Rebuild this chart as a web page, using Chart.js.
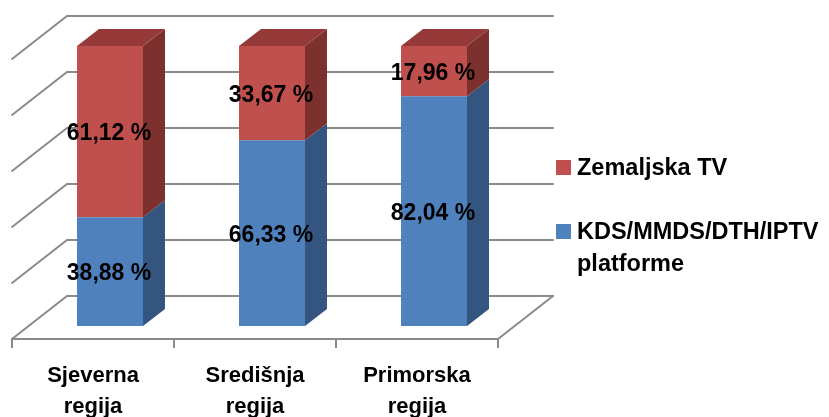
<!DOCTYPE html>
<html>
<head>
<meta charset="utf-8">
<script src="https://cdn.jsdelivr.net/npm/chart.js@4.4.0/dist/chart.umd.min.js"></script>
<style>
    html, body { margin: 0; padding: 0; background: #fff; }
    #wrap { width: 829px; height: 417px; }
</style>
</head>
<body>
<div id="wrap"><canvas id="regijeChart" width="829" height="417"></canvas></div>
<script>
// Udio platformi po regijama (%)
var regije = [["Sjeverna", "regija"], ["Središnja", "regija"], ["Primorska", "regija"]];
var kdsPlatforme = [38.88, 66.33, 82.04];
var zemaljskaTV = [61.12, 33.67, 17.96];
var yTicks = [0, 20, 40, 60, 80, 100];
var legendLabels = [["Zemaljska TV"], ["KDS/MMDS/DTH/IPTV", "platforme"]];

var FONT = "'Liberation Sans', Arial, sans-serif";
var frontColors = ["#4F81BD", "#C0504D"];
var sideColors = ["#34557F", "#7C312F"];
var topColors = ["#3E6797", "#953A38"];
var gridColor = "#8A8A8A";

// 3D offsets
var BAR_DX = 22, BAR_DY = -17;   // bar depth
var FLOOR_DX = 55, FLOOR_DY = -43; // floor depth
var FRONT_SHIFT_X = -17, FRONT_SHIFT_Y = 13; // floor front edge vs. bar front

let ctx = document.getElementById("regijeChart").getContext("2d");

function fmt(v) {
    return v.toFixed(2).replace(".", ",") + " %";
}

const pseudo3d = {
    id: "pseudo3d",
    beforeDatasetsDraw(chart) {
        const c = chart.ctx;
        const xs = chart.scales.x, ys = chart.scales.y;
        const frontY = ys.getPixelForValue(0) + FRONT_SHIFT_Y;
        const fl = xs.left + FRONT_SHIFT_X;
        const fr = xs.right + FRONT_SHIFT_X;
        const bl = fl + FLOOR_DX, br = fr + FLOOR_DX;
        const backShift = FRONT_SHIFT_Y + FLOOR_DY; // back wall vs bar front

        c.save();
        c.strokeStyle = gridColor;
        c.lineWidth = 2;
        c.lineCap = "round";
        // back wall + left wall gridlines
        yTicks.forEach((v) => {
            const yb = ys.getPixelForValue(v) + backShift;
            c.beginPath();
            c.moveTo(fl, yb - FLOOR_DY);
            c.lineTo(bl, yb);
            c.lineTo(br, yb);
            c.stroke();
        });
        // floor
        c.beginPath();
        c.moveTo(fl, frontY);
        c.lineTo(fr, frontY);
        c.lineTo(br, frontY + FLOOR_DY);
        c.stroke();
        // category tick marks
        c.lineCap = "butt";
        const step = (xs.right - xs.left) / regije.length;
        for (let i = 0; i <= regije.length; i++) {
            const x = fl + i * step;
            c.beginPath();
            c.moveTo(x, frontY);
            c.lineTo(x, frontY + 9);
            c.stroke();
        }
        c.restore();
    },
    afterDatasetsDraw(chart) {
        const c = chart.ctx;
        const xs = chart.scales.x;
        const nSets = chart.data.datasets.length;
        c.save();
        // side + top faces
        chart.data.datasets.forEach((ds, di) => {
            const meta = chart.getDatasetMeta(di);
            meta.data.forEach((el) => {
                const p = el.getProps(["x", "y", "base", "width"], true);
                const l = p.x - p.width / 2, r = p.x + p.width / 2;
                c.fillStyle = sideColors[di];
                c.beginPath();
                c.moveTo(r, p.base);
                c.lineTo(r, p.y);
                c.lineTo(r + BAR_DX, p.y + BAR_DY);
                c.lineTo(r + BAR_DX, p.base + BAR_DY);
                c.closePath();
                c.fill();
                if (di === nSets - 1) {
                    c.fillStyle = topColors[di];
                    c.beginPath();
                    c.moveTo(l, p.y);
                    c.lineTo(l + BAR_DX, p.y + BAR_DY);
                    c.lineTo(r + BAR_DX, p.y + BAR_DY);
                    c.lineTo(r, p.y);
                    c.closePath();
                    c.fill();
                }
            });
        });
        // value labels
        c.fillStyle = "#000";
        c.font = "bold 23px " + FONT;
        c.textAlign = "center";
        c.textBaseline = "middle";
        chart.data.datasets.forEach((ds, di) => {
            const meta = chart.getDatasetMeta(di);
            meta.data.forEach((el, i) => {
                const p = el.getProps(["x", "y", "base"], true);
                c.fillText(fmt(ds.data[i]), p.x - 1, (p.y + p.base) / 2 + 2.5);
            });
        });
        // category labels
        c.font = "bold 22px " + FONT;
        c.textBaseline = "alphabetic";
        regije.forEach((lines, i) => {
            const x = xs.getPixelForValue(i) + FRONT_SHIFT_X;
            lines.forEach((t, k) => c.fillText(t, x, 382 + k * 31));
        });
        // legend
        c.textAlign = "left";
        c.font = "bold 23.5px " + FONT;
        const legendColors = [frontColors[1], frontColors[0]];
        const legendBase = [175, 239];
        legendLabels.forEach((lines, k) => {
            c.fillStyle = legendColors[k];
            c.fillRect(556, legendBase[k] - 15, 15, 15);
            c.fillStyle = "#000";
            lines.forEach((t, j) => c.fillText(t, 577, legendBase[k] + j * 32));
        });
        c.restore();
    }
};

new Chart(ctx, {
    type: "bar",
    data: {
        labels: regije.map((r) => r.join(" ")),
        datasets: [
            {
                label: legendLabels[1].join(" "),
                data: kdsPlatforme,
                backgroundColor: frontColors[0],
                barPercentage: 66 / 162,
                categoryPercentage: 1,
            },
            {
                label: legendLabels[0].join(" "),
                data: zemaljskaTV,
                backgroundColor: frontColors[1],
                barPercentage: 66 / 162,
                categoryPercentage: 1,
            },
        ],
    },
    plugins: [pseudo3d],
    options: {
        responsive: false,
        animation: false,
        layout: {
            padding: { left: 29, right: 314, top: 46, bottom: 91 },
        },
        scales: {
            x: { display: false, stacked: true },
            y: { display: false, stacked: true, min: 0, max: 100 },
        },
        plugins: {
            legend: { display: false },
            tooltip: { enabled: false },
        },
    },
});
</script>
</body>
</html>
